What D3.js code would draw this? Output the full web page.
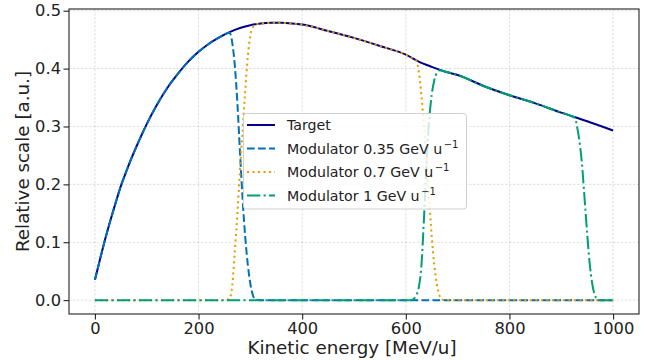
<!DOCTYPE html>
<html>
<head>
<meta charset="utf-8">
<script src="https://cdn.jsdelivr.net/npm/d3@7"></script>
<style>
  html, body { margin: 0; padding: 0; background: #fff; }
  svg { display: block; font-family: "DejaVu Sans", sans-serif; }
</style>
</head>
<body>
<svg id="chart" width="654" height="360"></svg>
<script>
// ---------------- data ----------------
const xTicks = [0, 200, 400, 600, 800, 1000];
const yTicks = [0.0, 0.1, 0.2, 0.3, 0.4, 0.5];

const energy = [0, 10, 20, 30, 40, 50, 60, 70, 80, 90, 100, 120, 140, 160, 180, 200, 220, 240, 260, 280,
                300, 320, 340, 360, 380, 400, 450, 500, 550, 600, 625, 650, 675, 700, 750, 800, 850, 900, 950, 1000];
const target = [0.035, 0.071, 0.106, 0.138, 0.168, 0.197, 0.221, 0.244, 0.265, 0.285, 0.304, 0.338, 0.367, 0.391,
                0.412, 0.429, 0.443, 0.454, 0.463, 0.470, 0.475, 0.478, 0.479, 0.479, 0.478, 0.476, 0.465, 0.453,
                0.439, 0.424, 0.412, 0.403, 0.395, 0.389, 0.370, 0.354, 0.340, 0.324, 0.309, 0.293];

// Modulator 0.35 GeV/u : [energy, value]
const mod035 = [[0, 0.035], [10, 0.071], [20, 0.106], [30, 0.138], [40, 0.168], [50, 0.197], [60, 0.221],
  [70, 0.244], [80, 0.265], [90, 0.285], [100, 0.304], [120, 0.338], [140, 0.367], [160, 0.391], [180, 0.412],
  [200, 0.429], [220, 0.443], [240, 0.454], [260, 0.462], [265, 0.445], [270, 0.405], [275, 0.340], [280, 0.255],
  [285, 0.175], [290, 0.110], [295, 0.062], [300, 0.028], [305, 0.008], [310, 0.001], [320, 0], [500, 0], [1000, 0]];

// Modulator 0.7 GeV/u
const mod07 = [[0, 0], [250, 0], [260, 0.003], [265, 0.025], [270, 0.085], [275, 0.150], [280, 0.225],
  [285, 0.295], [290, 0.360], [295, 0.420], [300, 0.458], [305, 0.472], [310, 0.476], [320, 0.478], [340, 0.479],
  [360, 0.479], [380, 0.478], [400, 0.476], [450, 0.465], [500, 0.453], [550, 0.439], [600, 0.424], [615, 0.417],
  [620, 0.414], [625, 0.395], [630, 0.355], [635, 0.300], [640, 0.240], [645, 0.175], [650, 0.110], [655, 0.060],
  [660, 0.027], [665, 0.008], [670, 0.001], [680, 0], [1000, 0]];

// Modulator 1 GeV/u
const mod1 = [[0, 0], [610, 0], [615, 0.002], [620, 0.008], [625, 0.022], [630, 0.058], [635, 0.140],
  [640, 0.240], [645, 0.310], [650, 0.355], [655, 0.380], [660, 0.393], [665, 0.397], [675, 0.395], [700, 0.389],
  [750, 0.370], [800, 0.354], [850, 0.340], [900, 0.324], [920, 0.318], [927, 0.314], [930, 0.302], [935, 0.275],
  [940, 0.235], [945, 0.175], [950, 0.115], [955, 0.062], [960, 0.027], [965, 0.008], [970, 0.002], [975, 0],
  [1000, 0]];

const seriesNames = ["Target", "Modulator 0.35 GeV u", "Modulator 0.7 GeV u", "Modulator 1 GeV u"];

// ---------------- layout ----------------
const W = 654, H = 360;
const margin = { left: 69, right: 15, top: 9, bottom: 46 };
const svg = d3.select("#chart");

const targetPts = energy.map((e, i) => [e, target[i]]);
const allPts = targetPts.concat(mod035, mod07, mod1);
const xExt = d3.extent(allPts, d => d[0]);
const yExt = d3.extent(allPts, d => d[1]);
const xPad = (xExt[1] - xExt[0]) * 0.05, yPad = (yExt[1] - yExt[0]) * 0.05;

const x = d3.scaleLinear().domain([xExt[0] - xPad, xExt[1] + xPad]).range([margin.left, W - margin.right]);
const y = d3.scaleLinear().domain([yExt[0] - yPad, yExt[1] + yPad]).range([H - margin.bottom, margin.top]);

// grid
const grid = svg.append("g");
grid.selectAll(".gx").data(xTicks).enter().append("line")
  .attr("x1", d => x(d)).attr("x2", d => x(d))
  .attr("y1", margin.top).attr("y2", H - margin.bottom)
  .attr("stroke", "#b0b0b0").attr("stroke-opacity", 0.5).attr("stroke-width", 0.8)
  .attr("stroke-dasharray", "2.5,1.5");
grid.selectAll(".gy").data(yTicks).enter().append("line")
  .attr("y1", d => y(d)).attr("y2", d => y(d))
  .attr("x1", margin.left).attr("x2", W - margin.right)
  .attr("stroke", "#b0b0b0").attr("stroke-opacity", 0.5).attr("stroke-width", 0.8)
  .attr("stroke-dasharray", "2.5,1.5");

// lines
const line = d3.line().x(d => x(d[0])).y(d => y(d[1])).curve(d3.curveMonotoneX);
const styles = [
  { color: "#00008B", dash: null },
  { color: "#0072B2", dash: "7.7,3.3" },
  { color: "#E69F00", dash: "2.1,3.4" },
  { color: "#009E73", dash: "13.3,3.3,2.1,3.3" }
];
const seriesData = [targetPts, mod035, mod07, mod1];
const plot = svg.append("g");
seriesData.forEach((d, i) => {
  plot.append("path").datum(d).attr("d", line)
    .attr("fill", "none").attr("stroke", styles[i].color).attr("stroke-width", 2)
    .attr("stroke-dasharray", styles[i].dash);
});

// axes
const fs = 16.3;
const xAxis = d3.axisBottom(x).tickValues(xTicks).tickSize(5.5).tickPadding(3).tickFormat(d3.format("d"));
const yAxis = d3.axisLeft(y).tickValues(yTicks).tickSize(5.5).tickPadding(2.5).tickFormat(d3.format(".1f"));
const gx = svg.append("g").attr("transform", `translate(0,${H - margin.bottom})`).call(xAxis);
const gy = svg.append("g").attr("transform", `translate(${margin.left},0)`).call(yAxis);
[gx, gy].forEach(g => {
  g.select(".domain").remove();
  g.selectAll(".tick line").attr("stroke", "#222").attr("stroke-width", 1.1);
  g.selectAll(".tick text").attr("fill", "#222").style("font-size", fs + "px")
    .style("font-family", "DejaVu Sans");
});

// spines
svg.append("rect")
  .attr("x", margin.left).attr("y", margin.top)
  .attr("width", W - margin.right - margin.left).attr("height", H - margin.bottom - margin.top)
  .attr("fill", "none").attr("stroke", "#222").attr("stroke-width", 1.1);

// axis labels
svg.append("text").attr("x", (margin.left + W - margin.right) / 2 - 2).attr("y", 354)
  .attr("text-anchor", "middle").attr("fill", "#222").style("font-size", "18.3px")
  .text("Kinetic energy [MeV/u]");
svg.append("text").attr("transform", `translate(28.5,${(margin.top + H - margin.bottom) / 2}) rotate(-90)`)
  .attr("text-anchor", "middle").attr("fill", "#222").style("font-size", "18.3px")
  .text("Relative scale [a.u.]");

// legend
const leg = svg.append("g");
leg.append("rect").attr("x", 243.5).attr("y", 113.5).attr("width", 223).attr("height", 95.5)
  .attr("rx", 3).attr("fill", "#fff").attr("fill-opacity", 0.8)
  .attr("stroke", "#d0d0d0").attr("stroke-width", 1);
const rowY = [125, 148.5, 172, 195.5];
seriesNames.forEach((name, i) => {
  const ry = rowY[i];
  leg.append("line").attr("x1", 247).attr("x2", 275).attr("y1", ry).attr("y2", ry)
    .attr("stroke", styles[i].color).attr("stroke-width", 2)
    .attr("stroke-dasharray", styles[i].dash);
  const t = leg.append("text").attr("x", 287).attr("y", ry + 5).attr("fill", "#222")
    .style("font-size", "14.2px");
  t.append("tspan").text(name);
  if (i > 0) {
    t.append("tspan").attr("dx", 1.5).attr("dy", -6).style("font-size", "10px").text("\u22121");
  }
});
</script>
</body>
</html>
